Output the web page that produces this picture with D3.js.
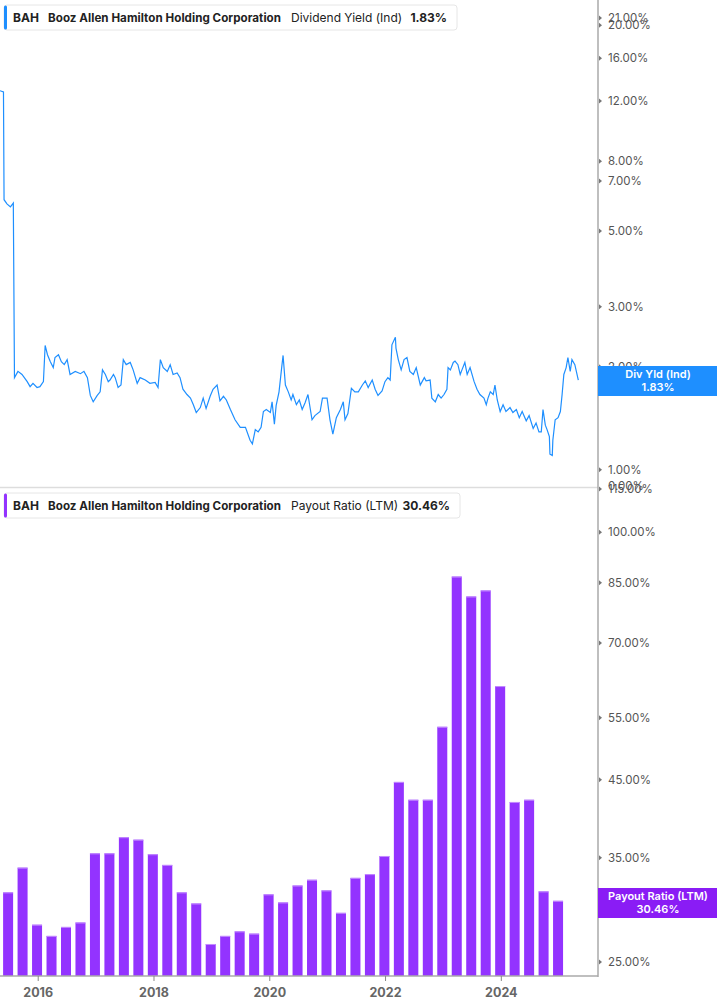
<!DOCTYPE html>
<html>
<head>
<meta charset="utf-8">
<script src="https://cdn.jsdelivr.net/npm/d3@7"></script>
<style>
  body { margin: 0; background: #fff; font-family: Inter, "Noto Sans", sans-serif; }
  svg text { font-family: Inter, "Noto Sans", sans-serif; }
</style>
</head>
<body>
<svg id="chart" width="717" height="1005"></svg>
<script>
// dividend yield (%); dates as decimal years
const yieldDates = [2015.34,2015.40,2015.41,2015.46,2015.52,2015.57,2015.59,2015.65,2015.72,2015.81,2015.86,2015.91,2015.98,2016.03,2016.09,2016.12,2016.16,2016.21,2016.26,2016.29,2016.35,2016.40,2016.45,2016.50,2016.55,2016.64,2016.73,2016.79,2016.85,2016.90,2016.95,2017.02,2017.07,2017.11,2017.16,2017.21,2017.24,2017.30,2017.33,2017.38,2017.43,2017.47,2017.52,2017.59,2017.64,2017.71,2017.76,2017.85,2017.93,2018.02,2018.07,2018.11,2018.16,2018.23,2018.28,2018.33,2018.40,2018.45,2018.50,2018.57,2018.63,2018.68,2018.73,2018.80,2018.85,2018.90,2018.97,2019.02,2019.09,2019.14,2019.20,2019.25,2019.32,2019.40,2019.49,2019.58,2019.66,2019.70,2019.75,2019.80,2019.85,2019.89,2019.94,2020.01,2020.04,2020.08,2020.11,2020.16,2020.21,2020.23,2020.27,2020.32,2020.37,2020.40,2020.46,2020.51,2020.56,2020.61,2020.66,2020.73,2020.78,2020.87,2020.91,2020.99,2021.04,2021.09,2021.15,2021.22,2021.27,2021.30,2021.35,2021.41,2021.47,2021.53,2021.60,2021.65,2021.70,2021.77,2021.82,2021.87,2021.94,2021.99,2022.04,2022.08,2022.11,2022.17,2022.18,2022.22,2022.27,2022.32,2022.37,2022.42,2022.48,2022.53,2022.60,2022.67,2022.70,2022.77,2022.80,2022.86,2022.91,2022.96,2023.01,2023.06,2023.08,2023.12,2023.17,2023.20,2023.25,2023.29,2023.32,2023.37,2023.41,2023.46,2023.53,2023.58,2023.63,2023.70,2023.74,2023.77,2023.81,2023.86,2023.89,2023.93,2023.98,2024.03,2024.08,2024.15,2024.20,2024.26,2024.31,2024.36,2024.43,2024.48,2024.55,2024.60,2024.65,2024.69,2024.72,2024.76,2024.79,2024.83,2024.84,2024.88,2024.89,2024.93,2024.98,2025.02,2025.05,2025.08,2025.12,2025.15,2025.19,2025.22,2025.27,2025.33];
const yieldValues = [12.86,12.75,6.17,6.00,5.88,6.03,1.86,1.94,1.90,1.81,1.75,1.79,1.74,1.75,1.81,2.31,2.17,2.07,1.99,2.13,2.17,2.07,2.03,2.10,1.90,1.94,1.91,1.94,1.86,1.65,1.58,1.65,1.69,1.96,1.90,1.81,1.83,1.90,1.86,1.74,1.77,2.10,2.03,2.06,1.96,1.79,1.86,1.83,1.79,1.80,1.74,2.10,1.99,1.94,2.03,1.90,1.92,1.86,1.72,1.66,1.62,1.55,1.47,1.52,1.62,1.51,1.64,1.72,1.77,1.59,1.64,1.60,1.50,1.40,1.33,1.33,1.22,1.19,1.31,1.29,1.33,1.48,1.50,1.47,1.58,1.36,1.54,1.69,2.02,2.16,1.77,1.69,1.60,1.66,1.55,1.60,1.50,1.57,1.66,1.40,1.44,1.48,1.62,1.62,1.40,1.27,1.42,1.50,1.58,1.40,1.46,1.73,1.69,1.69,1.77,1.82,1.74,1.83,1.72,1.65,1.70,1.81,1.86,1.83,2.32,2.44,2.27,2.10,1.96,2.10,2.13,1.94,1.90,1.99,1.77,1.86,1.82,1.83,1.62,1.58,1.66,1.62,1.66,1.72,1.99,1.96,2.06,2.08,2.03,1.90,1.96,2.06,1.90,1.99,1.81,1.72,1.66,1.62,1.55,1.62,1.69,1.66,1.77,1.60,1.48,1.55,1.48,1.52,1.47,1.50,1.42,1.48,1.39,1.44,1.32,1.37,1.29,1.29,1.50,1.35,1.31,1.25,1.11,1.10,1.22,1.40,1.42,1.48,1.66,1.90,1.99,2.13,1.94,2.10,2.03,1.83];

// quarterly payout ratio (LTM, %), first bar is 2015 Q2
const payoutDates = [2015.48,2015.73,2015.98,2016.23,2016.48,2016.73,2016.98,2017.23,2017.48,2017.73,2017.98,2018.23,2018.48,2018.73,2018.98,2019.23,2019.48,2019.73,2019.98,2020.23,2020.48,2020.73,2020.98,2021.23,2021.48,2021.73,2021.98,2022.23,2022.48,2022.73,2022.98,2023.23,2023.48,2023.73,2023.98,2024.23,2024.48,2024.73,2024.98];
const payoutValues = [31.3,33.9,28.2,27.2,28.0,28.4,35.5,35.5,37.4,37.1,35.4,34.2,31.3,30.2,26.5,27.2,27.6,27.4,31.1,30.3,32.0,32.6,31.5,29.3,32.8,33.2,35.2,44.7,42.2,42.2,53.4,86.7,81.3,82.9,60.9,41.9,42.2,31.4,30.46];

const yieldTicks = [1, 2, 3, 5, 7, 8, 12, 16, 20, 21];
const payoutTicks = [25, 35, 45, 55, 70, 85, 100, 115];
const yearTicks = [2016, 2018, 2020, 2022, 2024];

const blue = "#1e8fff", purple = "#9333ff", grey = "#555";
const svg = d3.select("#chart");
const axisX = 598;

const x = d3.scaleLinear().domain([2015.34, 2025.67]).range([0, axisX]);
const yTop = d3.scaleLog().domain([0.89, 23.7]).range([487, 0]);
const yBot = d3.scaleLog().domain([23.9, 115]).range([976, 489]);

// top panel line
svg.append("path")
    .datum(yieldDates.map((d, i) => [d, yieldValues[i]]))
    .attr("fill", "none").attr("stroke", blue).attr("stroke-width", 1.2)
    .attr("d", d3.line().x(d => x(d[0])).y(d => yTop(d[1])));

// separator between panels
svg.append("line").attr("x1", 0).attr("x2", axisX).attr("y1", 487.5).attr("y2", 487.5)
    .attr("stroke", "#ddd").attr("stroke-width", 1.5);

// bottom panel bars
const barW = 10;
svg.selectAll("rect.bar").data(payoutValues).join("rect")
    .attr("class", "bar")
    .attr("x", (d, i) => x(payoutDates[i]) - barW / 2)
    .attr("width", barW)
    .attr("y", d => yBot(d))
    .attr("height", d => 976 - yBot(d))
    .attr("fill", purple);
svg.selectAll("line.bartop").data(payoutValues).join("line")
    .attr("class", "bartop")
    .attr("x1", (d, i) => x(payoutDates[i]) - barW / 2)
    .attr("x2", (d, i) => x(payoutDates[i]) + barW / 2)
    .attr("y1", d => yBot(d) + 0.5).attr("y2", d => yBot(d) + 0.5)
    .attr("stroke", "#c38cff").attr("stroke-width", 1);

// vertical axis line and bottom axis
svg.append("line").attr("x1", axisX).attr("x2", axisX).attr("y1", 0).attr("y2", 977)
    .attr("stroke", "#aaa").attr("stroke-width", 1.5);
svg.append("line").attr("x1", 0).attr("x2", axisX).attr("y1", 976).attr("y2", 976)
    .attr("stroke", "#aaa").attr("stroke-width", 1.5);

// y tick labels with small triangle markers
function yTicks(scale, ticks, fmt) {
    const g = svg.append("g");
    ticks.forEach(t => {
        const yy = scale(t);
        g.append("path").attr("d", `M${axisX + 1},${yy - 2.5}L${axisX + 4},${yy}L${axisX + 1},${yy + 2.5}Z`).attr("fill", "#777");
        g.append("text").attr("x", axisX + 10).attr("y", yy + 4)
            .attr("font-size", 11.5).attr("fill", grey).text(fmt(t));
    });
}
yTicks(yTop, yieldTicks, t => t.toFixed(2) + "%");
yTicks(yBot, payoutTicks, t => t.toFixed(2) + "%");
// bottom edge label of the top panel
svg.append("text").attr("x", axisX + 10).attr("y", 490).attr("font-size", 11.5)
    .attr("fill", grey).text("0.00%");

// x axis
yearTicks.forEach(yr => {
    const xx = x(yr);
    svg.append("line").attr("x1", xx).attr("x2", xx).attr("y1", 976).attr("y2", 981).attr("stroke", "#888");
    svg.append("text").attr("x", xx).attr("y", 997).attr("text-anchor", "middle")
        .attr("font-size", 12.5).attr("font-weight", 700).attr("fill", "#666").text(yr);
});

// value tags on the axis
function tag(y0, color, line1, line2) {
    svg.append("rect").attr("x", axisX).attr("y", y0).attr("width", 717 - axisX).attr("height", 30).attr("fill", color);
    svg.append("text").attr("x", 658).attr("y", y0 + 12).attr("text-anchor", "middle")
        .attr("font-size", 11).attr("font-weight", 600).attr("fill", "#fff").text(line1);
    svg.append("text").attr("x", 658).attr("y", y0 + 25).attr("text-anchor", "middle")
        .attr("font-size", 11).attr("font-weight", 600).attr("fill", "#fff").text(line2);
}
tag(366, blue, "Div Yld (Ind)", "1.83%");
tag(888, "#8a1cf5", "Payout Ratio (LTM)", "30.46%");

// legend boxes
function legend(y0, w, color, metric, value) {
    const g = svg.append("g").attr("transform", `translate(4,${y0})`);
    g.append("rect").attr("width", w).attr("height", 25).attr("rx", 3)
        .attr("fill", "#fff").attr("stroke", "#e6e6e6");
    g.append("rect").attr("x", 0).attr("y", 0.5).attr("width", 3).attr("height", 24).attr("rx", 1.5).attr("fill", color);
    g.append("text").attr("x", 9).attr("y", 17).attr("font-size", 12).attr("font-weight", 700).attr("fill", "#222").text("BAH");
    g.append("text").attr("x", 44).attr("y", 17).attr("font-size", 11.6).attr("font-weight", 700).attr("fill", "#222")
        .attr("textLength", 233).text("Booz Allen Hamilton Holding Corporation");
    g.append("text").attr("x", 287).attr("y", 17).attr("font-size", 12).attr("fill", "#222").text(metric);
    g.append("text").attr("x", w - 10).attr("y", 17).attr("text-anchor", "end").attr("font-size", 12).attr("font-weight", 700).attr("fill", "#222").text(value);
}
legend(5, 453, blue, "Dividend Yield (Ind)", "1.83%");
legend(493, 456, purple, "Payout Ratio (LTM)", "30.46%");
</script>
</body>
</html>
